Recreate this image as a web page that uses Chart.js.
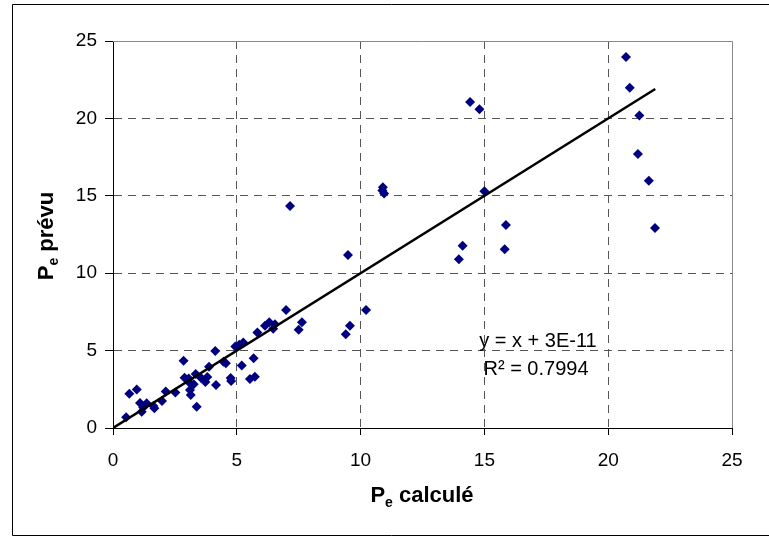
<!DOCTYPE html>
<html>
<head>
<meta charset="utf-8">
<script src="https://cdn.jsdelivr.net/npm/chart.js@4/dist/chart.umd.min.js"></script>
<style>
  html, body { margin: 0; padding: 0; background: #fff; }
  canvas { display: block; }
</style>
</head>
<body>
<canvas id="peChart" width="769" height="537"></canvas>
<script>
// Pe calculé (x) vs Pe prévu (y)
const peCalcule = [
  20.72, 20.87, 21.26, 21.2, 21.64, 21.89,
  14.42, 14.8, 15.0, 15.87, 15.82, 14.12, 13.97,
  10.9, 10.95, 10.88,
  7.15, 9.49, 9.57, 9.4, 10.22, 7.63, 7.5, 6.99,
  0.53, 0.66, 0.96, 1.09, 1.16, 1.36, 1.22, 1.63, 1.67, 1.98, 2.13, 2.52,
  2.85, 2.89, 3.06, 3.11, 3.11, 3.14, 3.26, 3.38, 3.34, 3.55, 3.73, 3.81, 3.88,
  4.16, 4.13, 4.46, 4.56, 4.75, 4.77, 4.94, 5.1, 5.26, 5.2, 5.68, 5.53, 5.73,
  5.83, 6.14, 6.31, 6.54, 6.47
]
const pePrevu = [
  23.97, 21.98, 20.18, 17.7, 15.98, 12.92,
  21.06, 20.59, 15.29, 13.11, 11.54, 11.78, 10.9,
  15.55, 15.15, 15.35,
  14.34, 11.17, 6.6, 6.05, 7.62, 6.83, 6.35, 7.62,
  0.69, 2.22, 2.48, 1.61, 1.05, 1.6, 1.33, 1.42, 1.27, 1.74, 2.35, 2.3,
  4.35, 3.25, 3.19, 2.89, 2.45, 2.13, 2.82, 1.38, 3.49, 3.25, 2.97, 3.29, 3.95,
  2.78, 4.97, 4.28, 4.18, 3.23, 3.04, 5.27, 5.38, 5.53, 4.03, 4.5, 3.17, 3.31,
  6.17, 6.6, 6.83, 6.7, 6.41
]

// linear trend line y = x + 3E-11, drawn over the data range
const trendX = [0, 21.9]
const trendY = [0, 21.9]

const axisTicks = [0, 5, 10, 15, 20, 25]
const equationLines = ['y = x + 3E-11', 'R² = 0.7994']

const FONT = "'Liberation Sans', Arial, sans-serif"

const points = peCalcule.map((x, i) => ({ x: x, y: pePrevu[i] }))
const trend = trendX.map((x, i) => ({ x: x, y: trendY[i] }))

function gridColor(ctx) {
  const v = ctx.tick && ctx.tick.value
  return (v === 0 || v === 25) ? 'rgba(0,0,0,0)' : '#555'
}

// outer border, plot frame, titles with subscripts, regression text
const decorations = {
  id: 'decorations',
  beforeDatasetsDraw(chart) {
    const c = chart.ctx
    const a = chart.chartArea
    c.save()
    c.setLineDash([])
    c.strokeStyle = '#888'
    c.lineWidth = 1
    c.beginPath()
    c.moveTo(a.left, a.top + 0.5)
    c.lineTo(a.right + 0.5, a.top + 0.5)
    c.lineTo(a.right + 0.5, a.bottom)
    c.stroke()
    c.restore()
  },
  afterDraw(chart) {
    const c = chart.ctx
    c.save()
    c.setLineDash([])
    // outer frame
    c.strokeStyle = '#000'
    c.lineWidth = 1
    c.beginPath()
    c.moveTo(780, 4.5)
    c.lineTo(12.5, 4.5)
    c.lineTo(12.5, 535.5)
    c.lineTo(780, 535.5)
    c.stroke()

    c.fillStyle = '#000'
    c.textBaseline = 'alphabetic'

    // title drawn as P + subscript e + rest
    function subTitle(rest) {
      c.font = 'bold 22px ' + FONT
      const wP = c.measureText('P').width
      c.font = 'bold 14px ' + FONT
      const wE = c.measureText('e').width
      c.font = 'bold 22px ' + FONT
      const wR = c.measureText(rest).width
      const total = wP + wE + wR
      let x = -total / 2
      c.textAlign = 'left'
      c.fillText('P', x, 0)
      x += wP
      c.font = 'bold 14px ' + FONT
      c.fillText('e', x, 5)
      x += wE
      c.font = 'bold 22px ' + FONT
      c.fillText(rest, x, 0)
    }

    c.save()
    c.translate(422, 502)
    subTitle(' calculé')
    c.restore()

    c.save()
    c.translate(53, 236)
    c.rotate(-Math.PI / 2)
    subTitle(' prévu')
    c.restore()

    // regression equation
    c.font = '20px ' + FONT
    c.textAlign = 'center'
    c.fillText(equationLines[0], 538, 347)
    c.fillText(equationLines[1], 536, 375)
    c.restore()
  }
}

new Chart(document.getElementById('peChart').getContext('2d'), {
  type: 'scatter',
  data: {
    datasets: [
      {
        label: 'Tendance',
        data: trend,
        showLine: true,
        borderColor: '#000',
        borderWidth: 2.5,
        pointRadius: 0,
        order: 0
      },
      {
        label: 'Pe',
        data: points,
        pointStyle: 'rectRot',
        pointRadius: 5,
        pointBackgroundColor: '#000080',
        pointBorderColor: '#000080',
        pointBorderWidth: 0,
        order: 1
      }
    ]
  },
  options: {
    responsive: false,
    animation: false,
    devicePixelRatio: 1,
    layout: { padding: { top: 41, right: 37, left: 0, bottom: 0 } },
    plugins: {
      legend: { display: false },
      tooltip: { enabled: false }
    },
    scales: {
      x: {
        type: 'linear',
        min: 0,
        max: 25,
        afterBuildTicks: s => { s.ticks = axisTicks.map(v => ({ value: v })) },
        afterFit: s => { s.height = 109 },
        grid: {
          color: gridColor,
          lineWidth: 1,
          tickColor: '#000',
          tickLength: 7,
          tickBorderDash: []
        },
        border: { color: '#000', width: 1, dash: [8, 6] },
        ticks: {
          color: '#000',
          padding: 14,
          maxRotation: 0,
          font: { family: FONT, size: 19 }
        }
      },
      y: {
        type: 'linear',
        min: 0,
        max: 25,
        afterBuildTicks: s => { s.ticks = axisTicks.map(v => ({ value: v })) },
        afterFit: s => { s.width = 113 },
        grid: {
          color: gridColor,
          lineWidth: 1,
          tickColor: '#000',
          tickLength: 8,
          tickBorderDash: []
        },
        border: { color: '#000', width: 1, dash: [8, 6] },
        ticks: {
          color: '#000',
          padding: 8,
          font: { family: FONT, size: 19 }
        }
      }
    }
  },
  plugins: [decorations]
})
</script>
</body>
</html>
